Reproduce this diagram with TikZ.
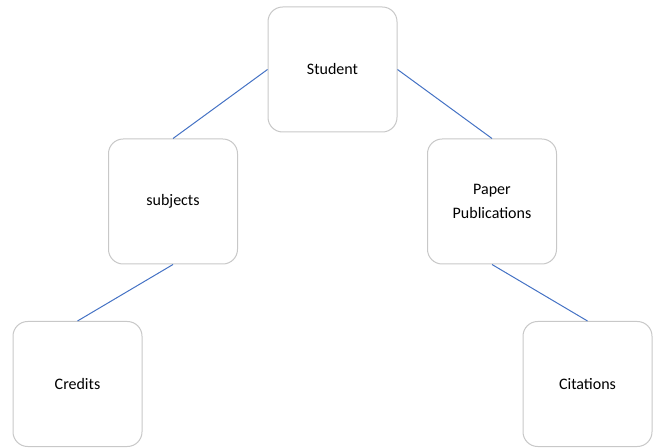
\documentclass[tikz,border=0pt]{standalone}
\usepackage{fontspec}
\setmainfont{Carlito}
\tikzset{every picture/.style={line width=0.75pt}}
\tikzset{
	entitybox/.style={draw={rgb, 255:red, 200; green, 200; blue, 200 }, fill=white, rounded corners=11pt,
		minimum width=96.75pt, minimum height=93.75pt, align=center, font=\fontsize{12}{17.5}\selectfont, inner sep=2pt},
	linkline/.style={draw={rgb, 255:red, 68; green, 114; blue, 196 }, line width=0.75pt}}

\begin{document}
\begin{tikzpicture}[x=0.75pt,y=0.75pt,yscale=-1,xscale=1]
	%set diagram left start at 0, and has height of 448
	\useasboundingbox (0,0) rectangle (656,448);

	% Boxes
	\node [entitybox] (student) at (332.5,69.5) {Student};
	\node [entitybox] (subjects) at (173,201.5) {subjects};
	\node [entitybox] (paper) at (492,201.5) {Paper\\Publications};
	\node [entitybox] (credits) at (77.5,384) {Credits};
	\node [entitybox] (citations) at (587.5,384) {Citations};

	% Straight Lines
	\draw [linkline] (student.west) -- (subjects.north) ;
	\draw [linkline] (student.east) -- (paper.north) ;
	\draw [linkline] (subjects.south) -- (credits.north) ;
	\draw [linkline] (paper.south) -- (citations.north) ;

\end{tikzpicture}
\end{document}
